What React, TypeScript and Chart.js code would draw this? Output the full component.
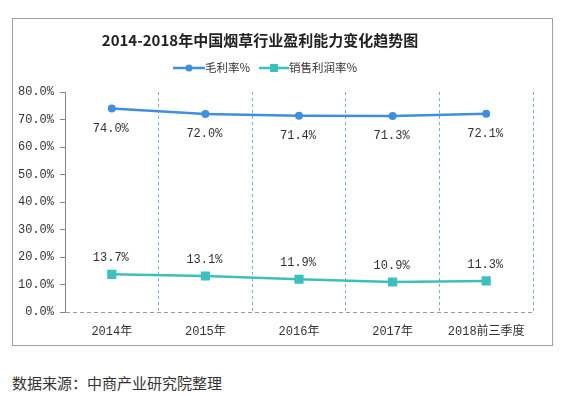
import React, { useEffect, useRef } from "react";
import { Chart, registerables } from "chart.js";

Chart.register(...registerables);

const titleText = "2014-2018年中国烟草行业盈利能力变化趋势图";
const sourceText = "数据来源：中商产业研究院整理";
const categories = ["2014年", "2015年", "2016年", "2017年", "2018前三季度"];
const seriesNames = ["毛利率%", "销售利润率%"];
const grossMargin = [74.0, 72.0, 71.4, 71.3, 72.1];
const salesProfitMargin = [13.7, 13.1, 11.9, 10.9, 11.3];
const yMin = 0;
const yMax = 80;
const yStep = 10;

const BLUE = "#3f8fde";
const TEAL = "#3dbfbf";
const MONO = "'Liberation Mono', 'Noto Sans CJK SC', monospace";
const CJK = "'Noto Sans CJK SC', sans-serif";

const fmt = (v: number) => `${v.toFixed(1)}%`;

const overlayPlugin = {
  id: "overlay",
  afterDatasetsDraw(chart: any) {
    const ctx = chart.ctx;
    ctx.save();
    ctx.font = `12px ${MONO}`;
    ctx.fillStyle = "#333";
    ctx.textAlign = "center";
    ctx.textBaseline = "middle";
    chart.data.datasets.forEach((ds: any, di: number) => {
      const meta = chart.getDatasetMeta(di);
      meta.data.forEach((pt: any, i: number) => {
        const dy = di === 0 ? 20 : -16;
        ctx.fillText(fmt(ds.data[i]), pt.x - 1, pt.y + dy);
      });
    });
    ctx.restore();
  },
  afterDraw(chart: any) {
    const ctx = chart.ctx;
    ctx.save();
    // title
    ctx.font = `bold 15px ${CJK}`;
    ctx.fillStyle = "#222";
    ctx.textAlign = "center";
    ctx.textBaseline = "middle";
    ctx.fillText(titleText, 247, 21);
    // legend
    ctx.font = `11.5px ${CJK}`;
    ctx.textAlign = "left";
    const y = 49;
    let x = 160;
    chart.data.datasets.forEach((ds: any, di: number) => {
      const lineW = di === 0 ? 32 : 30;
      ctx.strokeStyle = ds.borderColor;
      ctx.lineWidth = 2.5;
      ctx.beginPath();
      ctx.moveTo(x, y);
      ctx.lineTo(x + lineW, y);
      ctx.stroke();
      ctx.fillStyle = ds.borderColor;
      if (di === 0) {
        ctx.beginPath();
        ctx.arc(x + lineW / 2, y, 3.5, 0, Math.PI * 2);
        ctx.fill();
      } else {
        ctx.fillRect(x + lineW / 2 - 4, y - 4, 8, 8);
      }
      ctx.fillStyle = "#333";
      const label = ds.label as string;
      ctx.fillText(label, x + lineW, y);
      x += lineW + ctx.measureText(label).width + 9;
    });
    ctx.restore();
  },
};

export default function App() {
  const ref = useRef<HTMLCanvasElement | null>(null);
  useEffect(() => {
    if (!ref.current) return;
    const chart = new Chart(ref.current, {
      type: "line",
      data: {
        labels: categories,
        datasets: [
          {
            label: seriesNames[0],
            data: grossMargin,
            borderColor: BLUE,
            backgroundColor: BLUE,
            borderWidth: 2.5,
            pointStyle: "circle",
            pointRadius: 4,
            pointBorderWidth: 0,
            tension: 0,
          },
          {
            label: seriesNames[1],
            data: salesProfitMargin,
            borderColor: TEAL,
            backgroundColor: TEAL,
            borderWidth: 2.5,
            pointStyle: "rect",
            pointRadius: 6.5,
            pointBorderWidth: 0,
            tension: 0,
          },
        ],
      },
      options: {
        responsive: false,
        animation: false,
        devicePixelRatio: 1,
        layout: { padding: { top: 73, left: 0, right: 19, bottom: 0 } },
        plugins: {
          legend: { display: false },
          title: { display: false },
          tooltip: { enabled: false },
        },
        scales: {
          x: {
            type: "category",
            offset: true,
            afterFit: (s: any) => {
              s.height = 33;
            },
            grid: {
              display: true,
              offset: true,
              drawTicks: false,
              color: "#7aaed8",
              lineWidth: 1,
            },
            border: { display: false, dash: [3, 3] },
            ticks: {
              padding: 13,
              color: "#333",
              font: { family: MONO, size: 12 },
            },
          },
          y: {
            min: yMin,
            max: yMax,
            afterFit: (s: any) => {
              s.width = 52;
            },
            grid: {
              display: true,
              drawOnChartArea: true,
              drawTicks: true,
              tickLength: 5,
              color: (c: any) => (c.tick && c.tick.value === 0 ? "#9a9a9a" : "rgba(0,0,0,0)"),
              tickColor: "#888",
            },
            border: { display: true, color: "#888", width: 1, dash: [4, 3] },
            ticks: {
              stepSize: yStep,
              padding: 6,
              color: "#333",
              font: { family: MONO, size: 12 },
              callback: (v: any) => fmt(Number(v)),
            },
          },
        },
      },
      plugins: [overlayPlugin],
    } as any);
    return () => chart.destroy();
  }, []);

  return (
    <div style={{ position: "absolute", left: 0, top: 0, width: 562, height: 396, background: "#fff" }}>
      <div
        style={{
          position: "absolute",
          left: 12,
          top: 18,
          width: 539,
          height: 326,
          border: "1px solid #a0a0a0",
        }}
      >
        <canvas ref={ref} width={539} height={326} style={{ display: "block", width: 539, height: 326 }} />
      </div>
      <div
        style={{
          position: "absolute",
          left: 12,
          top: 373,
          fontFamily: CJK,
          fontSize: 15,
          color: "#333",
          lineHeight: "20px",
          whiteSpace: "nowrap",
        }}
      >
        {sourceText}
      </div>
    </div>
  );
}
